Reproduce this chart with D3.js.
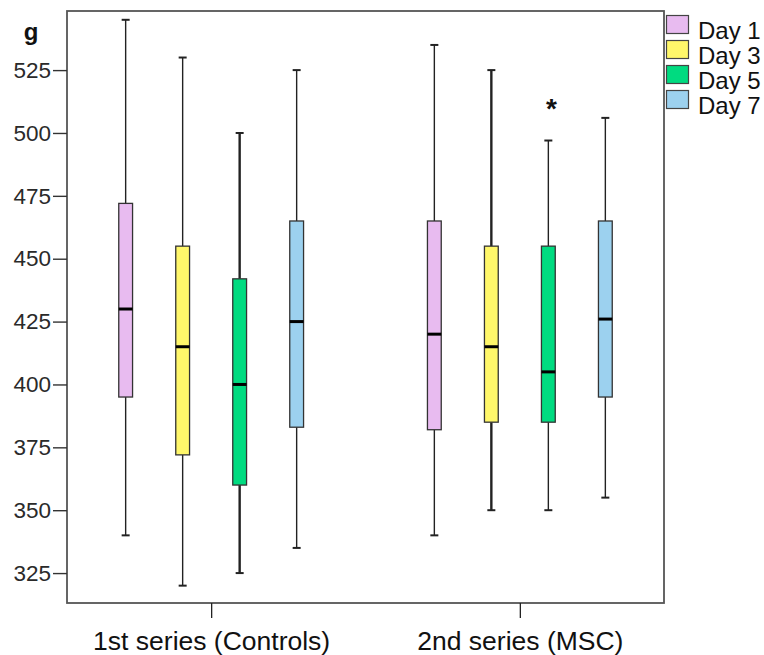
<!DOCTYPE html>
<html>
<head>
<meta charset="utf-8">
<script src="https://cdn.jsdelivr.net/npm/d3@7"></script>
<style>
  body { margin: 0; background: #fff; }
  svg { display: block; font-family: "Liberation Sans", Arial, sans-serif; }
</style>
</head>
<body>
<svg id="chart" width="764" height="655"></svg>
<script>
// groups on the x axis and the clustered days
const groups = ["1st series (Controls)", "2nd series (MSC)"];
const days = ["Day 1", "Day 3", "Day 5", "Day 7"];
// [min, q1, median, q3, max] per day
const controls = [
    [340, 395, 430, 472, 545],
    [320, 372, 415, 455, 530],
    [325, 360, 400, 442, 500],
    [335, 383, 425, 465, 525]
];
const msc = [
    [340, 382, 420, 465, 535],
    [350, 385, 415, 455, 525],
    [350, 385, 405, 455, 497],
    [355, 395, 426, 465, 506]
];
// extreme value shown with an asterisk
const outliers = [{ group: "2nd series (MSC)", day: "Day 5", value: 512 }];
const yTicks = [325, 350, 375, 400, 425, 450, 475, 500, 525];
const dayColors = ["#e8bbf0", "#fff76a", "#00db80", "#9cd1ef"];

const svg = d3.select("#chart");
const plot = { left: 67, top: 11, right: 664, bottom: 603 };

var y = d3.scaleLinear().domain([313.1, 548.5]).range([plot.bottom, plot.top]);
var x = d3.scalePoint().domain(groups).range([plot.left, plot.right]).padding(0.467);
var xDay = d3.scalePoint().domain(days).range([-114, 114]).padding(0.5);
var color = d3.scaleOrdinal().domain(days).range(dayColors);

const boxW = 15, capW = 8;
// whiskers that render heavier in the original
const heavy = { "1st series (Controls)|Day 5": true, "2nd series (MSC)|Day 3": true };

// frame
svg.append("rect")
    .attr("x", plot.left).attr("y", plot.top)
    .attr("width", plot.right - plot.left).attr("height", plot.bottom - plot.top)
    .attr("fill", "none").attr("stroke", "#555").attr("stroke-width", 1.8);

// y axis
var yAxis = svg.append("g")
    .attr("transform", `translate(${plot.left},0)`)
    .call(d3.axisLeft(y).tickValues(yTicks).tickSize(14).tickPadding(2));
yAxis.select(".domain").remove();
yAxis.selectAll(".tick line").attr("stroke", "#333").attr("stroke-width", 1.4);
yAxis.selectAll(".tick text").attr("font-size", 22.5).attr("fill", "#2a2a2a")
    .attr("font-family", "Liberation Sans, Arial, sans-serif");

svg.append("text").attr("x", 31).attr("y", 40).attr("text-anchor", "middle")
    .attr("font-size", 24).attr("font-weight", "bold").attr("fill", "#111").text("g");

// x axis
var xAxis = svg.append("g")
    .attr("transform", `translate(0,${plot.bottom})`)
    .call(d3.axisBottom(x).tickSize(15).tickPadding(13));
xAxis.select(".domain").remove();
xAxis.selectAll(".tick line").attr("stroke", "#222").attr("stroke-width", 1.3);
xAxis.selectAll(".tick text").attr("font-size", 26.5).attr("fill", "#111")
    .attr("font-family", "Liberation Sans, Arial, sans-serif");

// boxes
var rows = [];
[controls, msc].forEach(function (set, gi) {
    set.forEach(function (s, di) {
        rows.push({ group: groups[gi], day: days[di], min: s[0], q1: s[1], med: s[2], q3: s[3], max: s[4] });
    });
});

var box = svg.append("g").selectAll("g")
    .data(rows)
    .join("g")
    .attr("transform", d => `translate(${x(d.group) + xDay(d.day)},0)`);

box.append("line")
    .attr("x1", 0).attr("x2", 0)
    .attr("y1", d => y(d.max)).attr("y2", d => y(d.q3))
    .attr("stroke", "#222").attr("stroke-width", d => heavy[d.group + "|" + d.day] ? 2.4 : 1.4);
box.append("line")
    .attr("x1", 0).attr("x2", 0)
    .attr("y1", d => y(d.q1)).attr("y2", d => y(d.min))
    .attr("stroke", "#222").attr("stroke-width", d => heavy[d.group + "|" + d.day] ? 2.4 : 1.4);
box.append("line")
    .attr("x1", -capW / 2).attr("x2", capW / 2)
    .attr("y1", d => y(d.max)).attr("y2", d => y(d.max))
    .attr("stroke", "#222").attr("stroke-width", 2);
box.append("line")
    .attr("x1", -capW / 2).attr("x2", capW / 2)
    .attr("y1", d => y(d.min)).attr("y2", d => y(d.min))
    .attr("stroke", "#222").attr("stroke-width", 2);
box.append("rect")
    .attr("x", -boxW / 2 + 0.6).attr("width", boxW - 1.2)
    .attr("y", d => y(d.q3)).attr("height", d => y(d.q1) - y(d.q3))
    .attr("fill", d => color(d.day)).attr("stroke", "#333").attr("stroke-width", 1.3);
box.append("line")
    .attr("x1", -boxW / 2 + 0.6).attr("x2", boxW / 2 - 0.6)
    .attr("y1", d => y(d.med)).attr("y2", d => y(d.med))
    .attr("stroke", "#000").attr("stroke-width", 3);

// extreme values
svg.append("g").selectAll("text")
    .data(outliers)
    .join("text")
    .attr("x", d => x(d.group) + xDay(d.day) + 3)
    .attr("y", d => y(d.value) + 15)
    .attr("text-anchor", "middle")
    .attr("font-size", 28).attr("font-weight", "bold").attr("fill", "#111")
    .text("*");

// legend
var legend = svg.append("g").selectAll("g")
    .data(days)
    .join("g")
    .attr("transform", (d, i) => `translate(666,${15 + i * 25})`);
legend.append("rect")
    .attr("x", 0.5).attr("y", 0.5).attr("width", 22).attr("height", 18)
    .attr("fill", d => color(d)).attr("stroke", "#444").attr("stroke-width", 1.2);
legend.append("text")
    .attr("x", 32).attr("y", 23.5)
    .attr("font-size", 24).attr("fill", "#111")
    .text(d => d);
</script>
</body>
</html>
